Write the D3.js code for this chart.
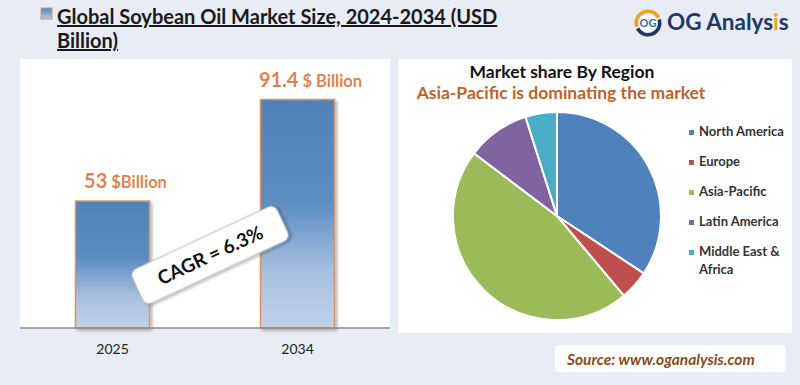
<!DOCTYPE html>
<html><head><meta charset="utf-8">
<script src="https://cdn.jsdelivr.net/npm/d3@7"></script>
<style>html,body{margin:0;padding:0;background:#e8edf5;}svg{display:block;}</style>
</head><body>
<svg id="c" width="800" height="385"></svg>
<script>
const years = ["2025", "2034"];
const marketSize = [53, 91.4];
const sizeLabelsNum = ["53", "91.4"];
const sizeLabelsUnit = [" $Billion", " $ Billion"];
const regions = ["North America", "Europe", "Asia-Pacific", "Latin America", "Middle East & Africa"];
const regionShare = [34.3, 4.6, 46.4, 9.8, 4.9];
const regionColors = ["#4f81bd", "#c0504d", "#9bbb59", "#8064a2", "#4bacc6"];
const cagrText = "CAGR = 6.3%";

const svg = d3.select("#c");
const F = "Lato, 'Open Sans', sans-serif";
const defs = svg.append("defs");
const g1 = defs.append("linearGradient").attr("id","barg").attr("x1",0).attr("y1",0).attr("x2",0).attr("y2",1);
g1.append("stop").attr("offset","0%").attr("stop-color","#4f84ba");
g1.append("stop").attr("offset","45%").attr("stop-color","#5b8dc2");
g1.append("stop").attr("offset","75%").attr("stop-color","#a7bfdf");
g1.append("stop").attr("offset","100%").attr("stop-color","#c2d3ea");
const ig = defs.append("linearGradient").attr("id","icong").attr("x1",0).attr("y1",0).attr("x2",0).attr("y2",1);
ig.append("stop").attr("offset","0%").attr("stop-color","#4f81bd");
ig.append("stop").attr("offset","100%").attr("stop-color","#b8cce4");
const sh = defs.append("filter").attr("id","sh").attr("x","-20%").attr("y","-20%").attr("width","150%").attr("height","150%");
sh.append("feDropShadow").attr("dx",2).attr("dy",2).attr("stdDeviation",1.5).attr("flood-color","#000").attr("flood-opacity",0.3);

// Title
svg.append("rect").attr("x",41).attr("y",8).attr("width",11).attr("height",11).attr("fill","url(#icong)").attr("stroke","#d9956a").attr("stroke-width",1);
const title = svg.append("text").attr("font-family",F).attr("font-weight","bold").attr("font-size",20).attr("fill","#1a1a1a").attr("text-decoration","underline");
title.append("tspan").attr("x",57).attr("y",24).text("Global Soybean Oil Market Size, 2024-2034 (USD");
title.append("tspan").attr("x",57).attr("y",48).text("Billion)");

// Logo
const lg = svg.append("g").attr("transform","translate(648,23)");
const arc0 = d3.arc();
lg.append("path").attr("d", arc0({innerRadius:10,outerRadius:13.5,startAngle:-Math.PI*0.6,endAngle:Math.PI*0.35})).attr("fill","#f0a020");
lg.append("path").attr("d", arc0({innerRadius:10,outerRadius:13.5,startAngle:Math.PI*0.4,endAngle:Math.PI*1.35})).attr("fill","#1f3864");
lg.append("circle").attr("r",9).attr("fill","#fff");
lg.append("text").attr("text-anchor","middle").attr("y",4).attr("font-family",F).attr("font-weight","bold").attr("font-size",11).attr("fill","#2e6db4").text("OG");
const lt = svg.append("text").attr("x",667).attr("y",30).attr("font-family",F).attr("font-weight","bold").attr("font-size",22.5).attr("fill","#1f3864");
lt.append("tspan").text("OG Analys");
lt.append("tspan").attr("fill","#f0a020").text("i");
lt.append("tspan").text("s");

// Left panel
svg.append("rect").attr("x",20).attr("y",59).attr("width",370).attr("height",269).attr("fill","#fff");
const x = d3.scaleBand().domain(years).range([20,390]).paddingInner(0.6).paddingOuter(0.3);
const y = d3.scaleLinear().domain([5,95]).range([328,90]);
const bars = svg.append("g");
years.forEach((yr,i)=>{
  bars.append("rect").attr("x",x(yr)).attr("y",y(marketSize[i])).attr("width",x.bandwidth()).attr("height",328-y(marketSize[i]))
    .attr("fill","url(#barg)").attr("stroke","#e0915c").attr("stroke-width",1.5).attr("filter","url(#sh)");
  const t = bars.append("text").attr("x",x(yr)+x.bandwidth()/2+13).attr("y",y(marketSize[i])-13).attr("text-anchor","middle")
    .attr("font-family",F).attr("font-weight","bold").attr("fill","#dc8550");
  t.append("tspan").attr("font-size",20).text(sizeLabelsNum[i]);
  t.append("tspan").attr("font-size",16.5).text(sizeLabelsUnit[i]);
});
const xAxis = svg.append("g").attr("transform","translate(0,328)").call(d3.axisBottom(x).tickSize(0).tickPadding(16));
xAxis.select(".domain").attr("stroke","#8a8a8a").attr("stroke-width",1.5).attr("d","M20,0H390");
xAxis.selectAll("text").attr("font-family",F).attr("font-size",14).attr("fill","#222");

// CAGR box
const cg = svg.append("g").attr("transform","translate(210,255) rotate(-25)");
cg.append("rect").attr("x",-80).attr("y",-19).attr("width",160).attr("height",38).attr("rx",7)
  .attr("fill","#fff").attr("stroke","#aaa").attr("stroke-width",0.8).attr("filter","url(#sh)");
cg.append("text").attr("text-anchor","middle").attr("y",7).attr("font-family",F).attr("font-weight","bold").attr("font-size",19).attr("fill","#111").text(cagrText);

// Right panel
svg.append("rect").attr("x",398).attr("y",59).attr("width",394).attr("height",274).attr("fill","#fff");
svg.append("text").attr("x",562).attr("y",78).attr("text-anchor","middle").attr("font-family",F).attr("font-weight","bold").attr("font-size",17.5).attr("fill","#111").text("Market share By Region");
svg.append("text").attr("x",561).attr("y",99).attr("text-anchor","middle").attr("font-family",F).attr("font-weight","bold").attr("font-size",17.5).attr("fill","#c0622a").text("Asia-Pacific is dominating the market");

const pie = d3.pie().sort(null).value(d=>d);
const arc = d3.arc().innerRadius(0).outerRadius(104);
svg.append("g").attr("transform","translate(557,216)").selectAll("path").data(pie(regionShare)).join("path")
  .attr("d",arc).attr("fill",(d,i)=>regionColors[i]).attr("stroke","#fff").attr("stroke-width",2);

// Legend
const leg = svg.append("g");
const legY = [136,166,196,226,256];
regions.forEach((r,i)=>{
  leg.append("rect").attr("x",689).attr("y",legY[i]-6).attr("width",5).attr("height",5).attr("fill",regionColors[i]);
  const t = leg.append("text").attr("x",699).attr("y",legY[i]).attr("font-family",F).attr("font-weight","bold").attr("font-size",13).attr("fill","#333");
  if (r === "Middle East & Africa") {
    t.append("tspan").attr("x",699).text("Middle East &");
    t.append("tspan").attr("x",699).attr("dy",18).text("Africa");
  } else t.text(r);
});

// Source
svg.append("rect").attr("x",555).attr("y",345).attr("width",231).attr("height",27).attr("rx",4).attr("fill","#fff");
svg.append("text").attr("x",567).attr("y",365).attr("font-family",F).attr("font-weight","bold").attr("font-style","italic").attr("font-size",15.5).attr("fill","#8a4a1a").text("Source: www.oganalysis.com");
</script>
</body></html>
